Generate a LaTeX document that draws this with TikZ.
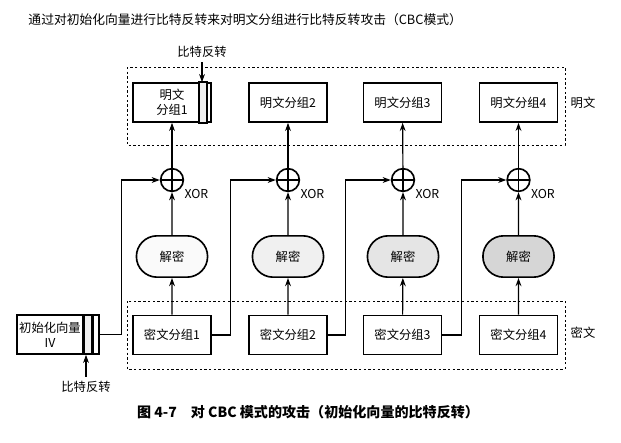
\documentclass[tikz,border=0pt]{standalone}
\usepackage{fontspec}
\setmainfont{Noto Sans CJK SC}
\usetikzlibrary{arrows.meta,positioning,shapes.misc}

\begin{document}
\begin{tikzpicture}[>={Stealth[length=7pt,width=5pt]},x=0.03cm,y=-0.03cm,line width=1pt,font=\fontsize{10.5}{13}\selectfont]
\tikzstyle{b}=[draw,line width=1.4pt,align=center,minimum width=2.34cm,minimum height=1.17cm,inner sep=1pt]
\tikzstyle{strip}=[draw,line width=1.4pt,minimum height=1.17cm,inner sep=0pt,anchor=west]
\tikzstyle{dec}=[draw,line width=1.4pt,rounded rectangle,minimum width=2.37cm,minimum height=1.24cm]
\tikzstyle{xo}=[draw,circle,line width=1.4pt,minimum size=0.68cm,inner sep=0pt,path picture={\draw[line width=1.2pt] (path picture bounding box.north) -- (path picture bounding box.south) (path picture bounding box.west) -- (path picture bounding box.east);}]
\tikzstyle{xl}=[inner sep=0pt]
\tikzstyle{grp}=[line width=0.5pt,dash pattern=on 2pt off 2pt]
\useasboundingbox (0,0) rectangle (621,442);
\node[anchor=west,font=\fontsize{10.9}{13}\selectfont] (t) at (24,20) {通过对初始化向量进行比特反转来对明文分组进行比特反转攻击（CBC模式）};
% plaintext row
\draw[grp] (127,67) rectangle (565,145);
\node[b] (p1) at (172,102.5) {明文\\分组1};
\draw[line width=1.4pt,fill=gray!12] ([xshift=-0.39cm]p1.north east) rectangle ([xshift=-0.15cm]p1.south east);
\node[b] (p2) at (288,102.5) {明文分组2};
\node[b] (p3) at (402.5,102.5) {明文分组3};
\node[b] (p4) at (518.5,102.5) {明文分组4};
\node (mw) at (583,103) {明文};
\node (bt1) at (202,52) {比特反转};
\draw[->] (bt1.south) -- (bt1.south |- p1.north);
% xor
\node[xo] (x1) at (172,180) {};
\node[xo] (x2) at (288,180) {};
\node[xo] (x3) at (403,180) {};
\node[xo] (x4) at (518.5,180) {};
\node[xl,below right=0cm and 0.1cm of x1] (xl1) {XOR};
\node[xl,below right=0cm and 0.1cm of x2] (xl2) {XOR};
\node[xl,below right=0cm and 0.1cm of x3] (xl3) {XOR};
\node[xl,below right=0cm and 0.1cm of x4] (xl4) {XOR};
% decryption
\node[dec,fill=gray!4] (d1) at (172,256.5) {解密};
\node[dec,fill=gray!12] (d2) at (288,256.5) {解密};
\node[dec,fill=gray!20] (d3) at (403,256.5) {解密};
\node[dec,fill=gray!32] (d4) at (518.5,256.5) {解密};
% ciphertext row
\draw[grp] (127,301) rectangle (565,369);
\node[b] (c1) at (172,335) {密文分组1};
\node[b] (c2) at (288,335) {密文分组2};
\node[b] (c3) at (402.5,335) {密文分组3};
\node[b] (c4) at (518.5,335) {密文分组4};
\node (cw) at (583,333) {密文};
% IV
\node[b,minimum width=1.98cm,inner sep=0pt] (iv) at (50,334.5) {初始化向量\\IV};
\node[strip,fill=gray!12,minimum width=0.21cm] (iv1) at (iv.east) {};
\node[strip,minimum width=0.18cm] (iv2) at (iv1.east) {};
\node (bt2) at (86,387) {比特反转};
\draw[->] (bt2.north) -- (bt2.north |- iv.south);
% connections
\draw[->] (c1) -- (d1); \draw[->] (d1) -- (x1); \draw[->] (x1) -- (p1);
\draw[->] (c2) -- (d2); \draw[->] (d2) -- (x2); \draw[->] (x2) -- (p2);
\draw[->] (c3) -- (d3); \draw[->] (d3) -- (x3); \draw[->] (x3) -- (p3);
\draw[->] (c4) -- (d4); \draw[->] (d4) -- (x4); \draw[->] (x4) -- (p4);
\draw[->] (iv2.east) -- ++(21,0) |- (x1);
\draw[->] (c1.east) -- ++(19,0) |- (x2);
\draw[->] (c2.east) -- ++(18,0) |- (x3);
\draw[->] (c3.east) -- ++(19,0) |- (x4);
\node[font=\fontsize{12}{14}\selectfont\bfseries] (cap) at (308,412) {图 4-7\quad 对 CBC 模式的攻击（初始化向量的比特反转）};
\end{tikzpicture}
\end{document}
